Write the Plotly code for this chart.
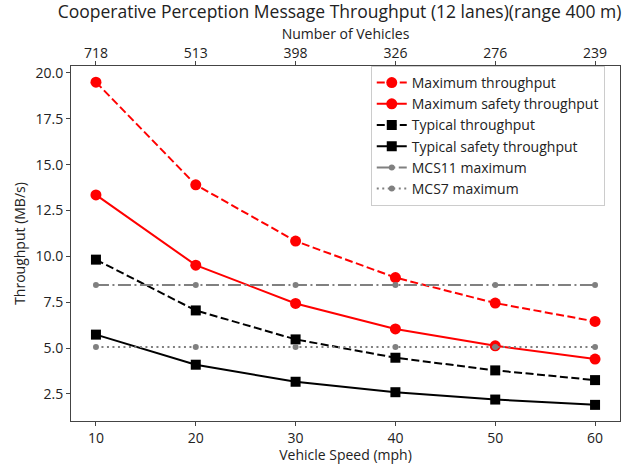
import plotly.graph_objects as go

speed = [10, 20, 30, 40, 50, 60]
vehicles = ["718", "513", "398", "326", "276", "239"]
max_thr = [19.5, 13.9, 10.83, 8.84, 7.45, 6.45]
max_safety = [13.35, 9.52, 7.43, 6.04, 5.12, 4.4]
typ_thr = [9.82, 7.05, 5.47, 4.47, 3.78, 3.25]
typ_safety = [5.73, 4.09, 3.16, 2.59, 2.19, 1.9]
mcs11 = [8.43] * 6
mcs7 = [5.05] * 6
y_ticks = [2.5, 5.0, 7.5, 10.0, 12.5, 15.0, 17.5, 20.0]

FONT = "Open Sans"
RED = "#ff0000"
GRAY = "#808080"
TXT = "#222222"

fig = go.Figure()

def add(name, y, color, dash, symbol, msize, lw=2):
    fig.add_trace(go.Scatter(
        x=speed, y=y, name=name, mode="lines+markers",
        line=dict(color=color, width=lw, dash=dash),
        marker=dict(color=color, size=msize, symbol=symbol, line=dict(width=0)),
    ))

add("Maximum throughput", max_thr, RED, "8px,3.5px", "circle", 11)
add("Maximum safety throughput", max_safety, RED, "solid", "circle", 11)
add("Typical throughput", typ_thr, "black", "8px,3.5px", "square", 10)
add("Typical safety throughput", typ_safety, "black", "solid", "square", 10)
add("MCS11 maximum", mcs11, GRAY, "13px,3.5px,2px,3.5px", "circle", 6)
add("MCS7 maximum", mcs7, GRAY, "2px,3.5px", "circle", 6)

# invisible trace to carry the top axis
fig.add_trace(go.Scatter(x=speed, y=mcs7, xaxis="x2", mode="markers",
                         marker=dict(opacity=0), showlegend=False, hoverinfo="skip"))

axis_common = dict(showgrid=False, zeroline=False, showline=True, linecolor="#444444",
                   linewidth=1, ticks="outside", ticklen=4, tickcolor="#444444",
                   tickfont=dict(family=FONT, size=14, color=TXT))

fig.update_layout(
    width=623, height=464,
    margin=dict(l=71, r=3, t=66, b=43),
    paper_bgcolor="white", plot_bgcolor="white",
    font=dict(family=FONT, size=14, color=TXT),
    title=dict(text="Cooperative Perception Message Throughput (12 lanes)(range 400 m)",
               x=0.545, xref="container", xanchor="center",
               y=1 - 12 / 464, yref="container", yanchor="middle",
               font=dict(family=FONT, size=17.5, color=TXT)),
    xaxis=dict(range=[7.5, 62.5], tickvals=speed, **axis_common,
               title=dict(text="Vehicle Speed (mph)", standoff=2,
                          font=dict(family=FONT, size=14, color=TXT))),
    xaxis2=dict(range=[7.5, 62.5], tickvals=speed, ticktext=vehicles, overlaying="x",
                side="top", ticklabelstandoff=-3, **axis_common,
                title=dict(text="Number of Vehicles", standoff=0,
                           font=dict(family=FONT, size=14, color=TXT))),
    yaxis=dict(range=[1.02, 20.38], tickvals=y_ticks, tickformat=".1f", mirror=True,
               **axis_common,
               title=dict(text="Throughput (MB/s)", standoff=6,
                          font=dict(family=FONT, size=14, color=TXT))),
    legend=dict(x=0.546, y=1.0, xanchor="left", yanchor="top",
                bgcolor="rgba(255,255,255,0.85)", bordercolor="#cccccc", borderwidth=1,
                font=dict(family=FONT, size=14, color=TXT), tracegroupgap=0),
    showlegend=True,
)

fig.write_html("out.html", config={"displayModeBar": False},
               post_script="document.body.style.margin='0';")
